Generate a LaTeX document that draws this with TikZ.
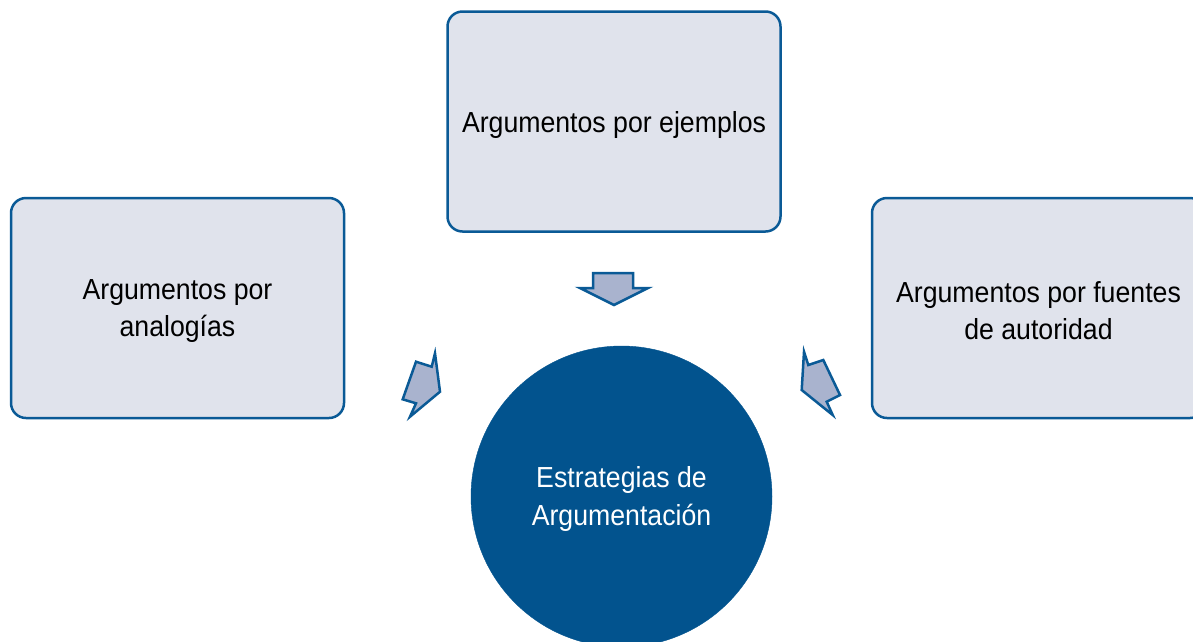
\documentclass[tikz,border=0pt]{standalone}
\usepackage{fontspec}
\setmainfont{Liberation Sans}[FakeStretch=0.92]
\definecolor{edgeblue}{HTML}{0A5A96}
\definecolor{boxfill}{HTML}{E0E3EC}
\definecolor{circfill}{HTML}{02538E}
\definecolor{arrfill}{HTML}{A9B3CE}
\tikzset{
  card/.style={draw=edgeblue, fill=boxfill, line width=2.5pt, rounded corners=15pt,
    minimum width=333pt, minimum height=220pt, inner sep=0pt},
  cardtext/.style={align=center, inner sep=0pt, font=\fontsize{29}{37}\selectfont, text=black},
  hub/.style={circle, fill=circfill, draw=circfill, minimum size=301pt, inner sep=0pt},
  hubtext/.style={align=center, inner sep=0pt, font=\fontsize{29}{38}\selectfont, text=white},
  blockarrow/.style={draw=edgeblue, fill=arrfill, line width=2.5pt, line join=miter}
}
\begin{document}
\begin{tikzpicture}[x=1pt, y=-1pt]
\useasboundingbox (0,0) rectangle (1193,641);
\node[card] (top) at (614,121.5) {};
\node[card] (left) at (177.5,308) {};
\node[card] (right) at (1038.5,308) {};
\node[hub] (hub) at (621.5,496.5) {};
\node[cardtext] (toptext) at ([yshift=-3pt]top.center) {Argumentos por ejemplos};
\node[cardtext] (lefttext) at ([yshift=-3pt]left.center) {Argumentos por\\analogías};
\node[cardtext] (righttext) at ([yshift=-3pt]right.center) {Argumentos por fuentes\\de autoridad};
\node[hubtext] (hubtext) at ([yshift=-2pt]hub.center) {Estrategias de\\Argumentación};
% block arrows
\draw[blockarrow] (593,273) -- (633,273) -- (633,288) -- (648,288) -- (614,305)
  -- (580,288) -- (593,288) -- cycle;
\draw[blockarrow] (435,353.3) -- (440,391.7) -- (410,416.7) -- (416,403.3)
  -- (402.7,399.3) -- (416,361.7) -- (431.7,366.7) -- cycle;
\draw[blockarrow] (804,351.7) -- (808.3,365) -- (823.3,360) -- (840,395)
  -- (826.7,401.7) -- (832.7,415) -- (801.7,390) -- cycle;
\end{tikzpicture}
\end{document}
